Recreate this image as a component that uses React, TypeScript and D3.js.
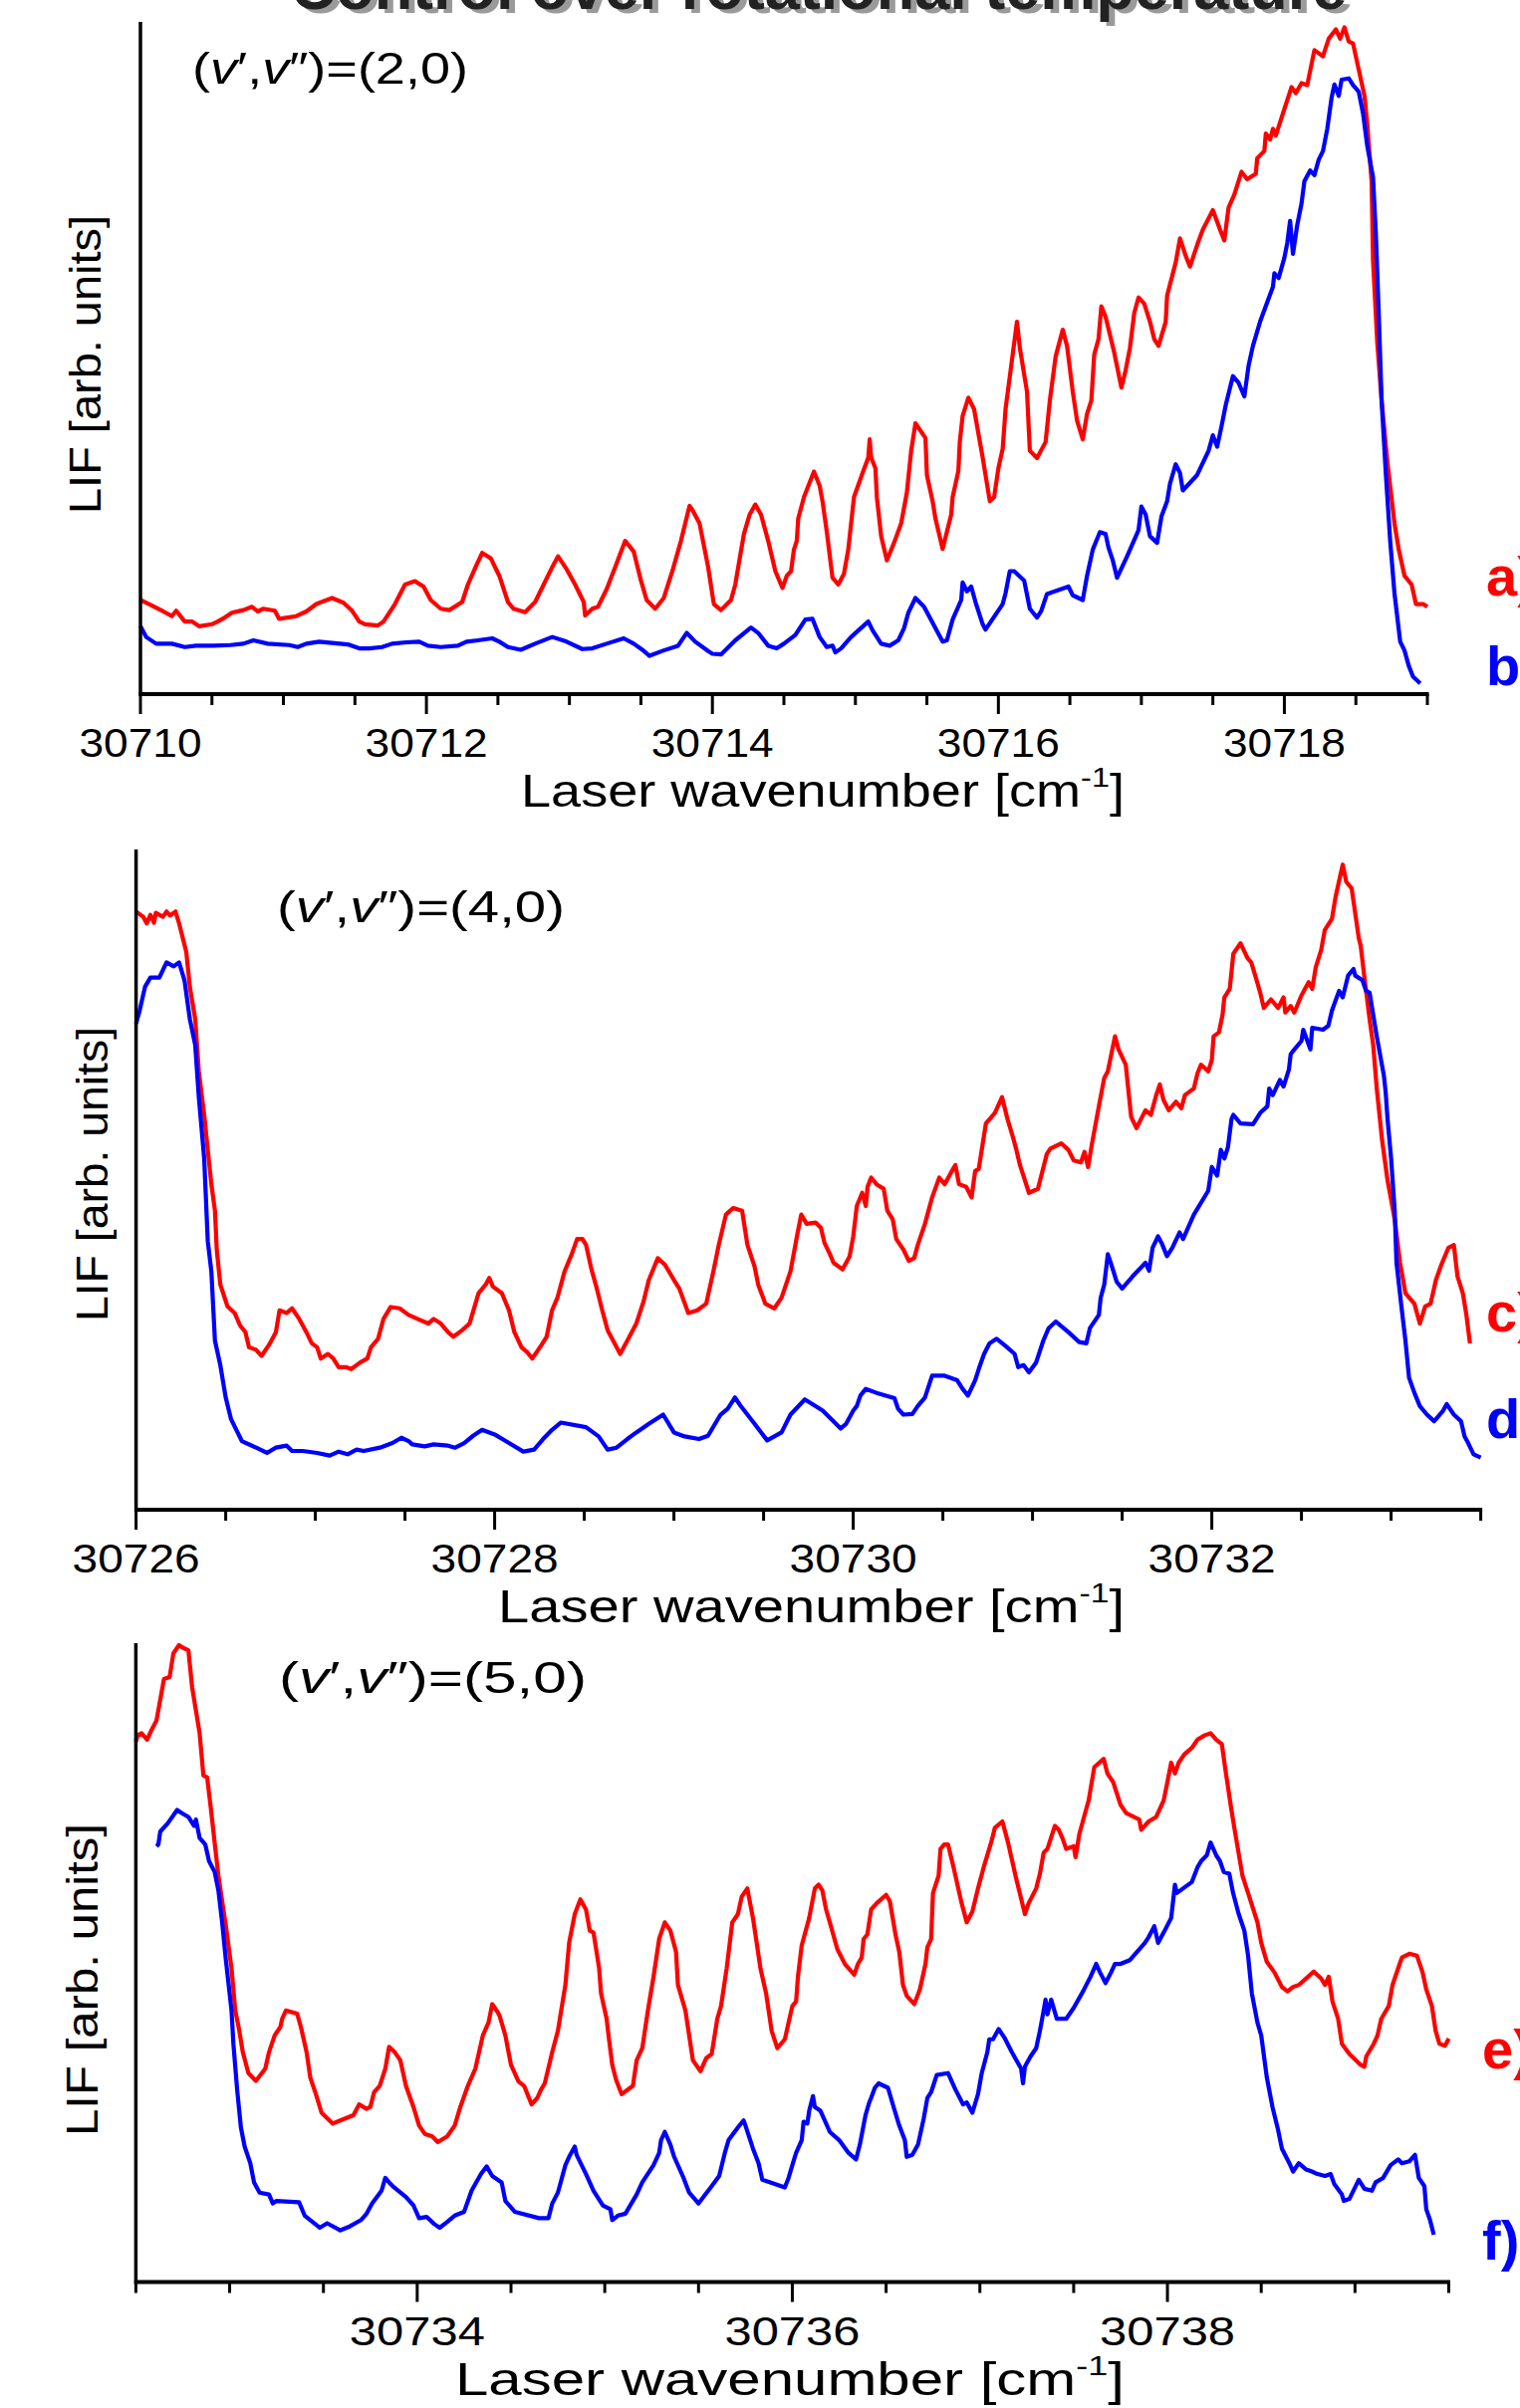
import React from "react";
import * as d3 from "d3";

// LIF spectra, wavenumber in cm-1, intensity in arb. units (0 = baseline, 100 = top of axis)

// (v',v'')=(2,0)
const curveA: [number, number][] = [
  [30710.0,14.0],[30710.06,13.4],[30710.16,12.3],[30710.22,11.6],[30710.25,12.4],[30710.31,10.8],[30710.36,10.8],[30710.41,10.1],[30710.5,10.4],[30710.54,10.8],[30710.59,11.4],[30710.64,12.1],[30710.72,12.5],[30710.78,13.0],[30710.82,12.3],[30710.86,12.7],[30710.94,12.4],[30710.97,11.2],[30711.09,11.6],[30711.16,12.3],[30711.23,13.4],[30711.34,14.3],[30711.42,13.6],[30711.48,12.4],[30711.53,10.8],[30711.57,10.4],[30711.66,10.2],[30711.7,10.8],[30711.78,13.4],[30711.85,16.3],[30711.92,16.8],[30711.98,16.0],[30712.03,14.0],[30712.1,12.7],[30712.16,12.5],[30712.25,13.7],[30712.29,16.3],[30712.35,19.2],[30712.39,21.0],[30712.45,20.2],[30712.51,17.6],[30712.57,13.7],[30712.61,12.7],[30712.69,12.2],[30712.76,13.7],[30712.82,16.3],[30712.88,18.9],[30712.92,20.5],[30712.98,18.6],[30713.04,16.3],[30713.1,13.7],[30713.11,11.7],[30713.16,12.7],[30713.2,13.0],[30713.26,15.6],[30713.32,18.9],[30713.39,22.8],[30713.45,21.2],[30713.5,16.9],[30713.54,14.0],[30713.6,12.7],[30713.66,14.3],[30713.72,18.3],[30713.78,22.8],[30713.84,28.0],[30713.86,27.4],[30713.91,25.4],[30713.97,18.9],[30714.01,13.4],[30714.06,12.5],[30714.13,14.0],[30714.16,16.3],[30714.22,23.8],[30714.26,26.7],[30714.3,28.2],[30714.34,26.7],[30714.39,22.8],[30714.44,18.3],
  [30714.49,15.8],[30714.52,17.6],[30714.55,18.3],[30714.57,21.5],[30714.59,22.8],[30714.6,26.1],[30714.64,29.3],[30714.71,33.1],[30714.75,31.0],[30714.77,28.7],[30714.8,24.1],[30714.84,17.3],[30714.88,16.3],[30714.92,17.9],[30714.95,21.5],[30714.99,29.3],[30715.05,32.9],[30715.09,35.2],[30715.1,37.9],[30715.11,35.2],[30715.14,33.6],[30715.15,29.3],[30715.18,23.5],[30715.22,19.9],[30715.27,22.5],[30715.32,25.4],[30715.36,30.0],[30715.39,36.2],[30715.42,40.3],[30715.49,38.1],[30715.5,32.6],[30715.54,28.7],[30715.56,26.1],[30715.61,21.6],[30715.67,26.7],[30715.68,29.3],[30715.72,33.2],[30715.73,37.5],[30715.75,41.4],[30715.79,44.1],[30715.83,42.4],[30715.89,35.2],[30715.94,28.7],[30715.97,29.3],[30716.0,33.6],[30716.03,36.5],[30716.05,42.4],[30716.09,48.9],[30716.13,55.4],[30716.15,51.5],[30716.2,45.0],[30716.22,36.2],[30716.27,35.1],[30716.33,37.5],[30716.36,43.7],[30716.4,50.2],[30716.45,54.2],[30716.48,51.8],[30716.52,45.0],[30716.55,40.7],[30716.59,37.9],[30716.62,41.7],[30716.65,43.7],[30716.67,50.5],[30716.7,52.8],[30716.72,57.7],[30716.75,56.1],[30716.81,50.8],[30716.86,45.6],[30716.89,48.2],[30716.92,51.5],[30716.95,56.7],[30716.98,59.0],[30717.02,58.1],[30717.06,55.4],[30717.09,52.8],[30717.12,51.8],[30717.17,55.4],[30717.18,59.3],[30717.24,64.2],[30717.27,67.8],[30717.31,65.2],[30717.34,63.6],[30717.39,66.8],[30717.43,69.1],[30717.5,72.0],[30717.55,69.1],[30717.58,67.5],[30717.61,72.4],[30717.65,74.3],[30717.7,77.7],[30717.74,76.6],[30717.8,77.4],[30717.81,79.7],[30717.86,80.8],[30717.87,83.4],[30717.9,82.5],[30717.92,84.1],[30717.94,83.1],[30717.99,86.4],[30718.05,90.3],[30718.08,89.4],[30718.12,90.9],[30718.16,90.6],[30718.21,95.8],[30718.27,94.9],[30718.31,97.5],[30718.36,98.9],[30718.39,97.5],[30718.42,99.2],[30718.45,97.1],[30718.48,96.8],[30718.52,92.9],[30718.56,89.0],[30718.58,84.7],[30718.61,76.3],[30718.62,64.5],[30718.65,52.2],[30718.68,43.7],[30718.72,34.6],[30718.77,25.4],[30718.8,21.5],[30718.84,17.6],[30718.89,16.3],[30718.92,13.4],[30718.97,13.4],[30719.0,13.0],
];

const curveB: [number, number][] = [
  [30710.0,10.1],[30710.04,8.5],[30710.11,7.5],[30710.22,7.5],[30710.31,7.0],[30710.39,7.2],[30710.51,7.2],[30710.63,7.3],[30710.72,7.5],[30710.79,8.0],[30710.89,7.5],[30711.04,7.3],[30711.1,7.0],[30711.16,7.5],[30711.25,7.8],[30711.34,7.6],[30711.45,7.4],[30711.53,6.8],[30711.6,6.8],[30711.69,7.0],[30711.76,7.5],[30711.86,7.7],[30711.95,7.8],[30712.01,7.2],[30712.1,7.0],[30712.22,7.2],[30712.28,7.8],[30712.36,8.0],[30712.46,8.3],[30712.51,7.8],[30712.57,7.0],[30712.66,6.6],[30712.76,7.5],[30712.88,8.5],[30712.98,7.8],[30713.09,6.7],[30713.16,6.8],[30713.26,7.5],[30713.38,8.3],[30713.45,7.5],[30713.51,6.6],[30713.56,5.7],[30713.66,6.5],[30713.76,7.2],[30713.82,9.1],[30713.88,7.8],[30713.97,6.4],[30714.0,6.0],[30714.06,5.9],[30714.16,8.0],[30714.27,9.9],[30714.32,9.1],[30714.39,7.2],[30714.45,6.8],[30714.5,7.5],[30714.58,8.8],[30714.65,11.1],[30714.7,11.2],[30714.75,8.5],[30714.8,7.0],[30714.84,7.2],[30714.86,6.2],[30714.9,6.8],[30714.97,8.5],[30715.09,10.8],[30715.12,9.5],[30715.18,7.5],[30715.24,7.2],[30715.3,8.0],[30715.34,9.8],[30715.37,12.1],[30715.42,14.3],[30715.48,13.0],[30715.61,7.8],[30715.64,8.0],[30715.68,11.1],[30715.74,14.0],[30715.75,16.6],[30715.78,15.3],[30715.81,16.0],[30715.84,13.7],[30715.89,10.4],[30715.91,9.6],[30716.03,13.4],[30716.05,15.0],[30716.08,18.3],[30716.11,18.3],[30716.18,16.9],[30716.22,12.7],[30716.27,11.4],[30716.3,12.4],[30716.34,14.9],[30716.49,16.0],[30716.52,14.7],[30716.59,14.0],[30716.62,17.6],[30716.66,21.5],[30716.71,24.1],[30716.75,23.8],[30716.77,21.8],[30716.8,19.9],[30716.83,17.3],[30716.9,20.5],[30716.98,24.4],[30717.0,27.9],[30717.03,26.7],[30717.06,23.5],[30717.11,22.5],[30717.14,26.4],[30717.18,28.7],[30717.2,31.3],[30717.24,34.2],[30717.27,32.9],[30717.29,30.3],[30717.39,32.6],[30717.47,36.2],[30717.5,38.5],[30717.53,36.8],[30717.56,39.8],[30717.59,43.0],[30717.64,47.3],[30717.68,46.3],[30717.72,44.3],[30717.75,48.9],[30717.78,51.8],[30717.83,55.4],[30717.92,60.6],[30717.93,62.6],[30717.96,61.9],[30718.0,64.9],[30718.02,67.1],[30718.04,70.4],[30718.06,65.5],[30718.09,69.8],[30718.12,73.0],[30718.14,76.3],[30718.18,77.9],[30718.21,77.2],[30718.24,79.5],[30718.27,80.8],[30718.3,84.1],[30718.33,88.7],[30718.35,90.7],[30718.38,89.0],[30718.4,91.4],[30718.45,91.6],[30718.48,90.6],[30718.52,89.6],[30718.55,86.4],[30718.58,81.5],[30718.62,76.9],[30718.64,68.4],[30718.66,56.7],[30718.68,43.7],[30718.71,32.6],[30718.74,22.8],[30718.77,15.0],[30718.81,7.8],[30718.84,6.5],[30718.87,4.2],[30718.9,2.6],[30718.93,2.0],[30718.95,1.6],
];

// (v',v'')=(4,0)
const curveC: [number, number][] = [
  [30726.0,90.6],[30726.04,89.8],[30726.06,88.8],[30726.08,90.1],[30726.1,88.9],[30726.11,90.4],[30726.15,89.8],[30726.17,90.6],[30726.19,90.0],[30726.22,90.6],[30726.24,88.8],[30726.28,84.5],[30726.3,79.2],[30726.33,74.3],[30726.35,66.4],[30726.38,59.8],[30726.4,54.5],[30726.42,49.3],[30726.44,45.3],[30726.45,39.4],[30726.47,34.1],[30726.51,30.8],[30726.55,29.8],[30726.58,27.9],[30726.61,26.9],[30726.63,24.6],[30726.67,24.2],[30726.7,23.3],[30726.74,24.9],[30726.78,26.9],[30726.8,30.2],[30726.84,29.8],[30726.87,30.5],[30726.91,28.9],[30726.95,26.9],[30726.98,25.2],[30727.01,24.6],[30727.03,22.9],[30727.07,23.6],[30727.1,22.9],[30727.13,21.6],[30727.17,21.6],[30727.2,21.3],[30727.25,22.3],[30727.29,22.9],[30727.31,24.6],[30727.35,25.9],[30727.38,28.9],[30727.42,30.7],[30727.47,30.5],[30727.52,29.5],[30727.57,28.9],[30727.63,28.2],[30727.66,28.9],[30727.7,28.2],[30727.74,26.9],[30727.77,26.2],[30727.82,27.2],[30727.86,28.2],[30727.91,32.8],[30727.95,34.1],[30727.97,35.1],[30727.99,33.8],[30728.04,32.8],[30728.08,30.2],[30728.11,26.9],[30728.15,24.6],[30728.18,23.9],[30728.21,22.9],[30728.26,24.9],[30728.29,26.2],[30728.32,30.2],[30728.35,32.1],[30728.39,36.1],[30728.43,38.7],[30728.46,41.0],[30728.49,41.0],[30728.51,40.1],[30728.54,36.4],[30728.57,33.5],[30728.6,30.2],[30728.63,27.2],[30728.7,23.6],[30728.74,25.6],[30728.79,28.2],[30728.83,31.5],[30728.86,34.8],[30728.91,38.1],[30728.95,37.1],[30729.0,34.8],[30729.03,33.5],[30729.08,29.8],[30729.13,30.2],[30729.18,31.2],[30729.22,36.1],[30729.25,40.1],[30729.29,44.7],[30729.33,45.7],[30729.38,45.3],[30729.41,40.1],[30729.45,36.8],[30729.47,34.1],[30729.51,31.2],[30729.56,30.5],[30729.6,32.1],[30729.65,36.1],[30729.69,42.0],[30729.71,44.7],[30729.74,43.3],
  [30729.79,43.5],[30729.82,42.7],[30729.84,40.4],[30729.87,38.7],[30729.89,37.4],[30729.94,36.4],[30729.98,38.4],[30730.0,41.4],[30730.02,46.0],[30730.05,48.0],[30730.07,46.0],[30730.08,48.9],[30730.1,50.3],[30730.13,49.3],[30730.17,48.6],[30730.19,45.3],[30730.22,44.0],[30730.24,41.0],[30730.28,39.4],[30730.31,37.7],[30730.34,38.1],[30730.36,40.1],[30730.4,43.3],[30730.44,47.3],[30730.48,50.3],[30730.51,49.3],[30730.55,51.3],[30730.57,52.2],[30730.59,49.3],[30730.63,48.9],[30730.66,47.3],[30730.68,51.3],[30730.7,51.6],[30730.74,58.5],[30730.79,60.1],[30730.83,62.5],[30730.86,59.2],[30730.89,56.5],[30730.91,54.5],[30730.93,52.2],[30730.98,48.0],[30731.03,48.6],[30731.08,53.9],[30731.1,54.7],[30731.16,55.5],[30731.2,54.5],[30731.23,52.9],[30731.27,52.6],[30731.29,54.2],[30731.31,51.9],[30731.33,55.2],[30731.37,61.1],[30731.4,65.4],[30731.42,66.4],[30731.46,71.7],[30731.48,69.7],[30731.52,67.4],[30731.55,59.5],[30731.58,57.8],[30731.63,60.5],[30731.66,59.8],[30731.69,62.8],[30731.71,64.4],[30731.73,62.1],[30731.76,60.5],[30731.8,61.8],[30731.83,60.8],[30731.85,62.8],[30731.88,63.4],[30731.9,63.8],[30731.92,66.1],[30731.94,67.4],[30731.98,66.4],[30732.0,68.1],[30732.01,71.7],[30732.04,72.3],[30732.06,75.0],[30732.07,77.6],[30732.1,78.9],[30732.12,84.2],[30732.16,85.8],[30732.2,83.5],[30732.22,82.9],[30732.25,80.2],[30732.27,78.3],[30732.29,76.0],[30732.33,77.3],[30732.37,76.0],[30732.4,77.6],[30732.41,75.3],[30732.44,76.3],[30732.46,75.3],[30732.5,77.9],[30732.54,79.9],[30732.56,78.9],[30732.58,82.2],[30732.61,84.8],[30732.63,87.8],[30732.67,89.5],[30732.69,92.8],[30732.73,97.7],[30732.75,95.1],[30732.78,94.1],[30732.82,86.5],[30732.83,85.5],[30732.85,80.9],[30732.88,74.3],[30732.9,70.4],[30732.92,63.8],[30732.95,55.9],[30732.98,49.9],[30733.02,44.0],[30733.05,37.4],[30733.08,32.8],[30733.13,31.2],[30733.16,28.2],[30733.19,30.8],[30733.22,31.2],[30733.25,34.8],[30733.28,37.1],[30733.32,39.7],[30733.35,40.1],[30733.37,35.4],[30733.4,32.8],[30733.42,29.5],[30733.44,25.2],
];

const curveD: [number, number][] = [
  [30726.0,73.6],[30726.02,75.6],[30726.05,79.2],[30726.08,80.6],[30726.13,80.6],[30726.17,82.9],[30726.21,82.3],[30726.24,82.9],[30726.27,80.2],[30726.3,74.3],[30726.33,70.4],[30726.35,62.5],[30726.38,53.2],[30726.4,40.7],[30726.42,36.1],[30726.44,25.6],[30726.47,21.9],[30726.5,17.0],[30726.53,13.7],[30726.59,10.4],[30726.67,9.4],[30726.73,8.6],[30726.78,9.4],[30726.84,9.7],[30726.87,8.9],[30726.93,8.9],[30727.01,8.6],[30727.08,8.2],[30727.13,8.8],[30727.18,8.4],[30727.23,9.1],[30727.27,8.9],[30727.36,9.4],[30727.43,10.1],[30727.48,10.9],[30727.52,10.4],[30727.54,9.9],[30727.61,9.6],[30727.66,9.9],[30727.74,9.7],[30727.78,9.4],[30727.83,10.1],[30727.88,11.2],[30727.93,12.1],[30728.0,11.4],[30728.08,10.1],[30728.16,8.8],[30728.22,9.1],[30728.27,10.7],[30728.32,12.1],[30728.37,13.2],[30728.51,12.5],[30728.58,11.1],[30728.63,9.1],[30728.68,9.4],[30728.74,10.7],[30728.79,11.7],[30728.86,13.0],[30728.94,14.4],[30729.0,11.7],[30729.06,11.1],[30729.14,10.7],[30729.19,11.2],[30729.26,14.4],[30729.3,15.3],[30729.34,17.0],[30729.37,15.8],[30729.45,13.0],[30729.52,10.5],[30729.56,11.1],[30729.6,11.7],[30729.65,14.4],[30729.73,16.7],
  [30729.83,15.0],[30729.89,13.4],[30729.93,12.3],[30729.96,13.0],[30730.0,15.0],[30730.02,15.7],[30730.04,17.3],[30730.07,18.3],[30730.13,17.7],[30730.23,16.9],[30730.25,15.3],[30730.28,14.4],[30730.33,14.5],[30730.36,15.7],[30730.4,17.0],[30730.44,20.3],[30730.51,20.3],[30730.58,19.6],[30730.61,18.3],[30730.64,17.3],[30730.68,19.6],[30730.7,21.3],[30730.73,23.6],[30730.76,25.2],[30730.8,25.9],[30730.85,24.8],[30730.9,23.6],[30730.92,21.6],[30730.95,21.9],[30730.98,20.8],[30731.02,22.3],[30731.06,25.6],[30731.09,27.5],[30731.13,28.5],[30731.2,26.9],[30731.26,25.4],[30731.3,25.2],[30731.32,27.5],[30731.37,29.5],[30731.38,32.1],[30731.4,34.1],[30731.42,38.7],[30731.44,37.1],[30731.47,34.5],[30731.5,33.5],[30731.56,35.4],[30731.63,37.4],[30731.65,36.2],[30731.67,39.7],[30731.7,41.4],[30731.72,40.4],[30731.75,38.4],[30731.78,39.7],[30731.82,42.0],[30731.84,41.0],[30731.9,44.7],[30731.98,48.3],[30732.0,51.9],[30732.03,50.6],[30732.05,54.5],[30732.07,53.2],[30732.09,54.9],[30732.11,59.2],[30732.12,59.8],[30732.16,58.5],[30732.23,58.4],[30732.27,60.1],[30732.31,61.1],[30732.32,63.8],[30732.34,62.8],[30732.38,65.1],[30732.4,64.1],[30732.43,66.7],[30732.44,69.0],[30732.46,69.7],[30732.5,71.0],[30732.51,72.7],[30732.55,69.7],[30732.56,73.0],[30732.62,72.7],[30732.65,73.3],[30732.67,75.6],[30732.71,78.6],[30732.73,77.6],[30732.76,80.9],[30732.79,81.9],[30732.8,80.9],[30732.84,80.2],[30732.86,78.6],[30732.88,78.3],[30732.9,75.0],[30732.92,71.7],[30732.96,65.7],[30732.97,63.1],[30732.98,59.2],[30733.0,53.2],[30733.02,45.3],[30733.03,37.4],[30733.06,30.2],[30733.08,25.6],[30733.1,20.0],[30733.13,17.7],[30733.16,15.7],[30733.2,14.4],[30733.24,13.4],[30733.29,15.0],[30733.31,16.0],[30733.35,14.4],[30733.39,13.4],[30733.41,11.1],[30733.43,10.1],[30733.46,8.4],[30733.5,7.9],
];

// (v',v'')=(5,0)
const curveE: [number, number][] = [
  [30732.5,84.6],[30732.51,85.6],[30732.53,85.9],[30732.56,84.9],[30732.58,86.2],[30732.61,87.9],[30732.65,94.4],[30732.68,94.7],[30732.7,98.4],[30732.73,99.7],[30732.75,99.3],[30732.78,98.9],[30732.8,93.1],[30732.84,85.9],[30732.86,79.3],[30732.88,79.0],[30732.9,74.1],[30732.92,68.8],[30732.94,63.6],[30732.96,59.6],[30732.98,55.7],[30733.01,49.1],[30733.03,42.5],[30733.05,39.6],[30733.07,36.0],[30733.1,32.7],[30733.14,31.5],[30733.19,33.4],[30733.21,36.0],[30733.24,38.6],[30733.27,39.9],[30733.28,41.2],[30733.3,42.5],[30733.36,42.0],[30733.38,39.9],[30733.41,36.0],[30733.43,32.0],[30733.46,29.4],[30733.49,26.5],[30733.55,24.8],[30733.59,25.3],[30733.66,26.1],[30733.69,27.8],[30733.73,27.1],[30733.75,27.4],[30733.77,29.7],[30733.8,30.7],[30733.83,33.4],[30733.85,36.8],[30733.88,36.0],[30733.91,34.7],[30733.94,30.7],[30733.98,27.4],[30734.01,24.5],[30734.04,23.2],[30734.08,22.8],[30734.11,21.9],[30734.16,22.8],[30734.2,24.5],[30734.23,27.4],[30734.27,30.7],[30734.31,33.4],[30734.35,38.6],[30734.38,40.6],[30734.4,43.5],[30734.43,42.2],[30734.44,41.6],[30734.47,38.6],[30734.5,34.0],[30734.54,31.4],[30734.57,30.7],[30734.61,27.8],[30734.64,28.8],[30734.66,30.1],[30734.68,31.1],[30734.72,36.0],[30734.75,39.3],[30734.79,46.5],[30734.81,53.1],[30734.84,57.6],[30734.87,59.9],[30734.9,58.3],[30734.92,55.0],[30734.94,54.7],[30734.97,49.1],[30734.98,45.2],[30735.01,41.2],[30735.02,38.6],[30735.04,34.0],[30735.06,31.7],[30735.09,29.4],[30735.15,30.7],[30735.17,34.7],[30735.2,36.6],[30735.23,42.5],[30735.26,47.8],[30735.29,53.7],[30735.32,56.3],[30735.35,55.0],[30735.38,51.7],[30735.39,46.5],[30735.43,42.5],[30735.47,34.7],[30735.51,33.0],[30735.54,35.0],[30735.57,35.7],[30735.6,41.2],[30735.62,43.2],[30735.65,49.1],[30735.68,56.3],[30735.71,57.6],[30735.73,60.3],[30735.76,61.6],[30735.79,57.0],[30735.81,53.1],[30735.83,49.1],[30735.86,45.2],[30735.89,39.3],[30735.92,36.6],[30735.96,38.0],
  [30736.0,43.2],[30736.02,43.9],[30736.03,47.8],[30736.05,52.7],[30736.09,57.0],[30736.12,61.6],[30736.14,62.2],[30736.16,61.3],[30736.18,58.3],[30736.2,56.3],[30736.24,52.1],[30736.28,49.8],[30736.33,48.1],[30736.35,49.8],[30736.37,50.8],[30736.38,53.7],[30736.4,54.4],[30736.42,58.3],[30736.45,59.3],[30736.5,60.6],[30736.52,59.6],[30736.55,54.4],[30736.57,51.7],[30736.59,46.5],[30736.61,44.8],[30736.65,43.5],[30736.68,45.8],[30736.71,49.8],[30736.72,52.4],[30736.74,53.7],[30736.75,60.9],[30736.78,63.6],[30736.79,67.8],[30736.81,68.5],[30736.83,68.5],[30736.86,64.9],[30736.9,59.6],[30736.93,56.3],[30736.96,58.0],[30736.99,61.6],[30737.02,64.9],[30737.06,68.8],[30737.08,71.1],[30737.12,72.1],[30737.15,68.8],[30737.19,63.6],[30737.24,57.6],[30737.26,59.3],[30737.3,61.6],[30737.32,63.9],[30737.34,67.2],[30737.36,67.8],[30737.4,71.4],[30737.42,70.8],[30737.44,69.5],[30737.46,67.8],[30737.5,68.2],[30737.51,66.5],[30737.53,70.1],[30737.58,75.4],[30737.61,80.6],[30737.66,81.9],[30737.68,79.6],[30737.71,78.3],[30737.75,74.7],[30737.78,73.4],[30737.85,72.4],[30737.86,70.8],[30737.9,72.1],[30737.94,72.8],[30737.98,75.4],[30738.0,78.3],[30738.02,81.3],[30738.04,79.6],[30738.06,81.3],[30738.09,82.6],[30738.13,83.6],[30738.16,84.9],[30738.2,85.6],[30738.23,85.9],[30738.26,84.9],[30738.29,84.2],[30738.31,80.0],[30738.34,74.1],[30738.36,70.5],[30738.4,63.6],[30738.43,60.9],[30738.48,56.3],[30738.5,53.1],[30738.53,50.1],[30738.57,48.5],[30738.61,46.2],[30738.64,45.5],[30738.67,46.2],[30738.7,46.5],[30738.75,47.8],[30738.78,48.6],[30738.82,47.5],[30738.84,46.5],[30738.86,47.8],[30738.88,43.9],[30738.91,41.2],[30738.93,37.3],[30738.97,35.7],[30739.03,34.0],[30739.05,33.7],[30739.06,35.3],[30739.1,37.3],[30739.12,38.6],[30739.14,41.2],[30739.18,43.2],[30739.2,46.5],[30739.23,49.1],[30739.25,50.8],[30739.29,51.4],[30739.33,51.1],[30739.36,48.5],[30739.38,45.8],[30739.41,43.2],[30739.43,39.3],[30739.45,37.3],[30739.48,37.0],[30739.5,38.1],
];

const curveF: [number, number][] = [
  [30732.61,68.2],[30732.62,68.5],[30732.63,70.5],[30732.67,71.8],[30732.72,73.9],[30732.75,73.3],[30732.78,72.8],[30732.81,71.4],[30732.82,72.4],[30732.84,69.5],[30732.87,68.5],[30732.89,65.9],[30732.92,64.2],[30732.94,61.3],[30732.96,56.3],[30732.98,50.4],[30733.01,42.5],[30733.02,37.3],[30733.04,30.1],[30733.06,24.2],[30733.08,21.2],[30733.11,18.6],[30733.13,15.6],[30733.16,14.0],[30733.21,13.7],[30733.23,12.3],[30733.25,12.7],[30733.37,12.5],[30733.4,10.4],[30733.43,9.7],[30733.48,8.5],[30733.52,9.2],[30733.59,8.1],[30733.64,8.7],[30733.7,9.7],[30733.73,10.7],[30733.76,12.3],[30733.81,14.3],[30733.83,16.3],[30733.85,15.6],[30733.87,15.0],[30733.94,13.3],[30733.98,12.0],[30734.01,10.0],[30734.05,10.2],[30734.09,9.1],[30734.12,8.5],[30734.16,9.4],[30734.2,10.4],[30734.25,11.0],[30734.29,14.3],[30734.34,16.9],[30734.37,18.1],[30734.4,16.6],[30734.45,15.6],[30734.47,12.7],[30734.52,11.0],[30734.65,10.0],[30734.7,10.0],[30734.72,12.3],[30734.75,14.0],[30734.79,18.3],[30734.81,19.6],[30734.84,21.2],[30734.85,19.9],[30734.9,16.9],[30734.94,14.3],[30734.99,12.0],[30735.03,11.4],[30735.04,9.7],[30735.07,10.4],[30735.11,10.7],[30735.17,13.7],[30735.2,15.6],[30735.26,18.3],[30735.29,20.2],[30735.3,22.2],[30735.32,23.5],[30735.35,21.5],[30735.37,19.6],[30735.42,16.3],[30735.45,14.0],[30735.5,12.3],[30735.57,15.0],[30735.61,16.6],[30735.64,20.2],[30735.66,22.2],[30735.71,24.2],[30735.74,25.3],[30735.75,24.5],[30735.79,20.9],[30735.82,18.6],[30735.84,16.0],[30735.96,14.8],[30735.98,16.3],
  [30736.0,18.3],[30736.02,20.2],[30736.05,22.2],[30736.06,25.1],[30736.08,24.8],[30736.09,26.8],[30736.11,29.1],[30736.12,27.4],[30736.15,26.8],[30736.2,23.5],[30736.25,22.2],[30736.3,20.2],[30736.34,19.2],[30736.36,21.5],[30736.39,26.1],[30736.41,28.1],[30736.42,28.8],[30736.44,30.4],[30736.46,31.1],[30736.51,30.4],[30736.54,27.4],[30736.57,24.5],[30736.6,22.2],[30736.61,19.6],[30736.64,19.9],[30736.67,21.5],[30736.7,25.5],[30736.72,28.8],[30736.74,29.7],[30736.77,32.4],[30736.83,32.7],[30736.87,30.1],[30736.9,28.4],[30736.91,27.8],[30736.93,28.1],[30736.96,26.5],[30736.99,29.4],[30737.01,32.7],[30737.04,36.0],[30737.05,38.0],[30737.07,38.0],[30737.1,39.6],[30737.13,38.3],[30737.17,36.0],[30737.22,33.4],[30737.23,31.1],[30737.24,33.7],[30737.27,35.3],[30737.3,36.6],[30737.32,39.3],[30737.34,42.5],[30737.35,44.2],[30737.36,41.9],[30737.38,44.2],[30737.41,41.2],[30737.46,41.2],[30737.5,42.9],[30737.55,45.5],[30737.59,47.8],[30737.62,49.8],[30737.64,48.5],[30737.67,46.8],[30737.7,48.5],[30737.72,49.8],[30737.75,49.8],[30737.8,50.4],[30737.85,52.1],[30737.88,53.1],[30737.9,54.0],[30737.93,55.7],[30737.95,53.1],[30737.98,54.7],[30738.02,57.0],[30738.03,59.6],[30738.04,62.2],[30738.05,60.9],[30738.13,62.6],[30738.16,64.9],[30738.18,65.9],[30738.21,66.8],[30738.23,68.8],[30738.26,66.8],[30738.28,65.9],[30738.3,64.2],[30738.33,63.9],[30738.35,60.9],[30738.38,57.6],[30738.41,55.0],[30738.43,51.1],[30738.45,45.2],[30738.48,40.6],[30738.5,38.6],[30738.53,32.0],[30738.56,27.4],[30738.59,23.8],[30738.61,20.9],[30738.65,18.6],[30738.67,17.3],[30738.7,18.6],[30738.74,17.6],[30738.77,17.3],[30738.8,16.9],[30738.84,16.6],[30738.87,16.9],[30738.89,15.3],[30738.93,13.7],[30738.94,12.7],[30738.97,13.0],[30739.02,16.0],[30739.05,14.6],[30739.09,14.3],[30739.11,15.6],[30739.15,16.3],[30739.19,18.3],[30739.23,19.2],[30739.25,18.6],[30739.29,18.9],[30739.32,19.9],[30739.34,16.3],[30739.37,15.0],[30739.38,11.4],[30739.4,9.7],[30739.42,7.4],
];

const tickLabelsA = [30710, 30712, 30714, 30716, 30718];
const tickLabelsC = [30726, 30728, 30730, 30732];
const tickLabelsE = [30734, 30736, 30738];

const RED = "#ff0000";
const BLUE = "#0000ff";

const panels = [
  {
    domain: [30710, 30719], x0: 141, x1: 1433, top: 22, bottom: 697,
    labels: tickLabelsA, tickW: 123, titleW: 606, titleFs: 46,
    band: "2", bandX: 193, bandY: 84, bandW: 277,
    ylX: 85, ylY: 366, ylW: 300,
    red: curveA, blue: curveB,
    tags: [{ t: "a)", c: RED, x: 1492, y: 598 }, { t: "b)", c: BLUE, x: 1492, y: 688 }],
  },
  {
    domain: [30726, 30733.5], x0: 136.6, x1: 1486.6, top: 853, bottom: 1516,
    labels: tickLabelsC, tickW: 128, titleW: 629, titleFs: 47,
    band: "4", bandX: 278, bandY: 926, bandW: 289,
    ylX: 92, ylY: 1179, ylW: 296,
    red: curveC, blue: curveD,
    tags: [{ t: "c)", c: RED, x: 1492, y: 1337 }, { t: "d)", c: BLUE, x: 1492, y: 1444 }],
  },
  {
    domain: [30732.5, 30739.5], x0: 136.4, x1: 1454.5, top: 1650, bottom: 2291.5,
    labels: tickLabelsE, tickW: 136, titleW: 672, titleFs: 47,
    band: "5", bandX: 280, bandY: 1700, bandW: 309,
    ylX: 82, ylY: 1988, ylW: 314,
    red: curveE, blue: curveF,
    tags: [{ t: "e)", c: RED, x: 1488, y: 2077 }, { t: "f)", c: BLUE, x: 1488, y: 2269 }],
  },
];

const FONT = "'Liberation Sans', Arial, sans-serif";

const Panel = ({ p }: { p: (typeof panels)[number] }) => {
  const x = d3.scaleLinear().domain(p.domain).range([p.x0, p.x1]);
  const y = d3.scaleLinear().domain([0, 100]).range([p.bottom, p.top]);
  const line = d3.line<[number, number]>().x(d => x(d[0])).y(d => y(d[1]));
  const ticks = d3.range(p.domain[0], p.domain[1] + 0.001, 0.5);

  return (
    <g>
      <path d={line(p.red) || ""} fill="none" stroke={RED} strokeWidth={4.2} strokeLinejoin="round" />
      <path d={line(p.blue) || ""} fill="none" stroke={BLUE} strokeWidth={4.2} strokeLinejoin="round" />

      {/* axes */}
      <line x1={p.x0} x2={p.x0} y1={p.top} y2={p.bottom + 2} stroke="#000" strokeWidth={3.5} />
      <line x1={p.x0 - 1.5} x2={p.x1 + 1.5} y1={p.bottom} y2={p.bottom} stroke="#000" strokeWidth={4} />
      {ticks.map(t => {
        const major = Math.abs(t % 2) < 1e-6;
        return (
          <line key={t} x1={x(t)} x2={x(t)} y1={p.bottom} y2={p.bottom + (major ? 20 : 11)}
            stroke="#000" strokeWidth={3} />
        );
      })}
      {p.labels.map(t => (
        <text key={t} x={x(t)} y={p.bottom + 63} textAnchor="middle" fontFamily={FONT}
          fontSize={41} textLength={p.tickW} lengthAdjust="spacingAndGlyphs">{t}</text>
      ))}
      <text x={1129 - p.titleW} y={p.bottom + 113} fontFamily={FONT} fontSize={p.titleFs}
        textLength={p.titleW} lengthAdjust="spacingAndGlyphs">
        Laser wavenumber [cm<tspan dy={-20} fontSize={p.titleFs * 0.6}>-1</tspan><tspan dy={20}>]</tspan>
      </text>
      <text transform={`translate(${p.ylX},${p.ylY}) rotate(-90)`} textAnchor="middle" dy="0.36em"
        fontFamily={FONT} fontSize={44} textLength={p.ylW} lengthAdjust="spacingAndGlyphs">
        LIF [arb. units]
      </text>
      <text x={p.bandX} y={p.bandY} fontFamily={FONT} fontSize={45}
        textLength={p.bandW} lengthAdjust="spacingAndGlyphs">
        (<tspan fontStyle="italic">v</tspan>{"\u2032,"}<tspan fontStyle="italic">v</tspan>{"\u2033)=(" + p.band + ",0)"}
      </text>
      {p.tags.map(g => (
        <text key={g.t} x={g.x} y={g.y} fill={g.c} fontFamily={FONT} fontWeight="bold" fontSize={56}>{g.t}</text>
      ))}
    </g>
  );
};

export default function App() {
  return (
    <div>
      <style>{"body{margin:0}"}</style>
      <svg width={1526} height={2418} viewBox="0 0 1526 2418" style={{ display: "block", background: "#fff" }}>
        <text x={828} y={13} textAnchor="middle" fontFamily={FONT} fontWeight="bold" fontSize={63} fill="#9a9a9a">
          Control over rotational temperature
        </text>
        <text x={822} y={9} textAnchor="middle" fontFamily={FONT} fontWeight="bold" fontSize={63} fill="#222">
          Control over rotational temperature
        </text>
        {panels.map((p, i) => <Panel key={i} p={p} />)}
      </svg>
    </div>
  );
}
